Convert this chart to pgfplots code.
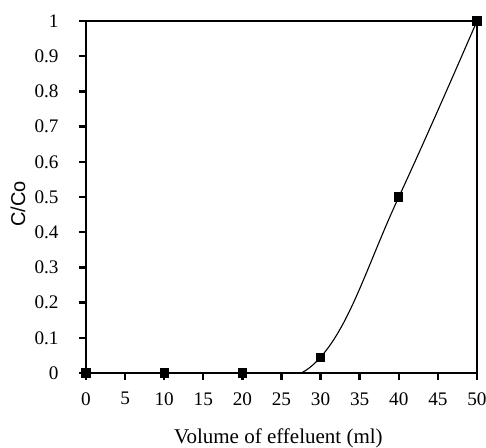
\documentclass[border=0pt]{standalone}
\usepackage{pgfplots}
\pgfplotsset{compat=1.18}
\usepackage{fontspec}
\setmainfont{Liberation Serif}
\newfontfamily\arialfont{Liberation Sans}
\begin{document}
\begin{tikzpicture}
\begin{axis}[
  scale only axis,
  width=195.5pt, height=176pt,
  xmin=0, xmax=50, ymin=0, ymax=1,
  xtick={0,5,...,50},
  ytick={0,0.1,...,1},
  yticklabels={0,0.1,0.2,0.3,0.4,0.5,0.6,0.7,0.8,0.9,1},
  tick align=outside,
  major tick length=3.5pt,
  tick style={line width=1.2pt, black},
  axis line style={line width=1.3pt},
  tick label style={font=\fontsize{9.6}{11}\selectfont, inner sep=0pt},
  /pgf/number format/assume math mode=true,
  xticklabel style={anchor=north, yshift=-6pt},
  yticklabel style={anchor=east, xshift=-10pt},
  xlabel={Volume of effeluent (ml)},
  ylabel={C/Co},
  xlabel style={font=\fontsize{10.5}{12}\selectfont, at={(axis description cs:0.492,-0.1989)}, anchor=base},
  ylabel style={font=\arialfont\fontsize{10}{12}\selectfont, at={(axis description cs:-0.156,0.48)}, anchor=base},
  xtick pos=bottom, ytick pos=left,
]
\addplot[black, line width=0.55pt, smooth, tension=0.7, mark=square*, mark size=2pt, mark options={solid}]
  coordinates {(0,0) (10,0) (20,0) (30,0.045) (40,0.5) (50,1)};
\end{axis}
\pgfresetboundingbox
\path ([xshift=-43pt,yshift=-37.5pt]current axis.south west) rectangle ([xshift=4.5pt,yshift=10.5pt]current axis.north east);
\end{tikzpicture}
\end{document}
